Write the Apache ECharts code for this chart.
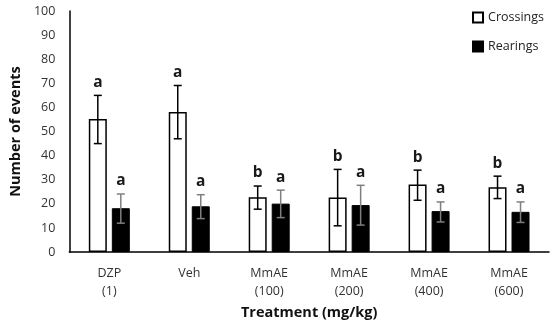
<!DOCTYPE html>
<html><head><meta charset="utf-8">
<script src="https://cdn.jsdelivr.net/npm/echarts@6/dist/echarts.min.js"></script>
<style>html,body{margin:0;padding:0;background:#fff}#c{width:550px;height:325px}</style>
</head><body><div id="c"></div>
<script>
var categories = ['DZP\n(1)', 'Veh', 'MmAE\n(100)', 'MmAE\n(200)', 'MmAE\n(400)', 'MmAE\n(600)'];
var crossings = [55.2, 58.1, 22.8, 22.6, 28, 26.9];
var crossLow = [45, 47, 17.8, 10.9, 21.5, 22.2];
var crossHigh = [65, 69.1, 27.4, 34.3, 34, 31.5];
var crossLetters = ['a', 'a', 'b', 'b', 'b', 'b'];
var rearings = [18.2, 19, 20.1, 19.5, 17, 16.7];
var rearLow = [12, 13.9, 14.3, 11.2, 12.5, 12.3];
var rearHigh = [24.1, 23.8, 25.7, 27.7, 20.8, 20.8];
var rearLetters = ['a', 'a', 'a', 'a', 'a', 'a'];
var yTicks = [0, 10, 20, 30, 40, 50, 60, 70, 80, 90, 100];

var FONT = '"Open Sans", Lato, sans-serif';
var BAR_W = 18, GAP = 5;
var OFFSET = (BAR_W + GAP) / 2;

function errSeries(low, high, letters, sign, color) {
  var data = low.map(function (l, i) { return [i, l, high[i], letters[i]]; });
  return {
    type: 'custom',
    data: data,
    encode: { x: 0, y: [1, 2] },
    z: 5,
    silent: true,
    renderItem: function (params, api) {
      var i = api.value(0);
      var pLow = api.coord([i, api.value(1)]);
      var pHigh = api.coord([i, api.value(2)]);
      var x = pLow[0] + sign * OFFSET;
      var cap = 4;
      var st = { stroke: color, lineWidth: 1.5 };
      return {
        type: 'group',
        children: [
          { type: 'line', shape: { x1: x, y1: pLow[1], x2: x, y2: pHigh[1] }, style: st },
          { type: 'line', shape: { x1: x - cap, y1: pLow[1], x2: x + cap, y2: pLow[1] }, style: st },
          { type: 'line', shape: { x1: x - cap, y1: pHigh[1], x2: x + cap, y2: pHigh[1] }, style: st },
          { type: 'text', style: { text: letters[params.dataIndex], x: x, y: pHigh[1] - 5,
              textAlign: 'center', textVerticalAlign: 'bottom', fontFamily: FONT,
              fontWeight: 'bold', fontSize: 15.5, fill: '#1a1a1a' } }
        ]
      };
    }
  };
}

var chart = echarts.init(document.getElementById('c'));
chart.setOption({
  animation: false,
  textStyle: { fontFamily: FONT },
  grid: { left: 60, right: 1, top: 11, bottom: 72 },
  legend: {
    data: ['Crossings', 'Rearings'],
    icon: 'rect',
    orient: 'vertical', right: 1, top: 6, itemGap: 16,
    itemWidth: 10, itemHeight: 10,
    textStyle: { fontFamily: FONT, fontSize: 12.5, color: '#222' }
  },
  xAxis: {
    type: 'category', data: categories,
    name: 'Treatment (mg/kg)', nameLocation: 'middle', nameGap: 50,
    nameTextStyle: { fontFamily: FONT, fontWeight: 'bold', fontSize: 14.5, color: '#111' },
    axisLine: { lineStyle: { color: '#000', width: 1.5 } },
    axisTick: { show: false },
    axisLabel: { fontFamily: FONT, fontSize: 12.5, color: '#333', lineHeight: 18, margin: 12, interval: 0 }
  },
  yAxis: {
    type: 'value', min: 0, max: 100, interval: 10,
    name: 'Number of events', nameLocation: 'middle', nameGap: 38,
    nameTextStyle: { fontFamily: FONT, fontWeight: 'bold', fontSize: 14.5, color: '#111' },
    axisLine: { show: true, lineStyle: { color: '#000', width: 1.5 } },
    axisTick: { show: false },
    splitLine: { show: false },
    axisLabel: { fontFamily: FONT, fontSize: 12.5, color: '#333', margin: 14,
      formatter: function (v) { return yTicks.indexOf(v) >= 0 ? String(v) : ''; } }
  },
  series: [
    { name: 'Crossings', type: 'bar', data: crossings, barWidth: BAR_W, barGap: (GAP / BAR_W * 100) + '%',
      itemStyle: { color: '#fff', borderColor: '#000', borderWidth: 1.5 } },
    { name: 'Rearings', type: 'bar', data: rearings, barWidth: BAR_W,
      itemStyle: { color: '#000', borderColor: '#000', borderWidth: 1 } },
    errSeries(crossLow, crossHigh, crossLetters, -1, '#000'),
    errSeries(rearLow, rearHigh, rearLetters, 1, '#7f7f7f')
  ]
});
</script></body></html>
